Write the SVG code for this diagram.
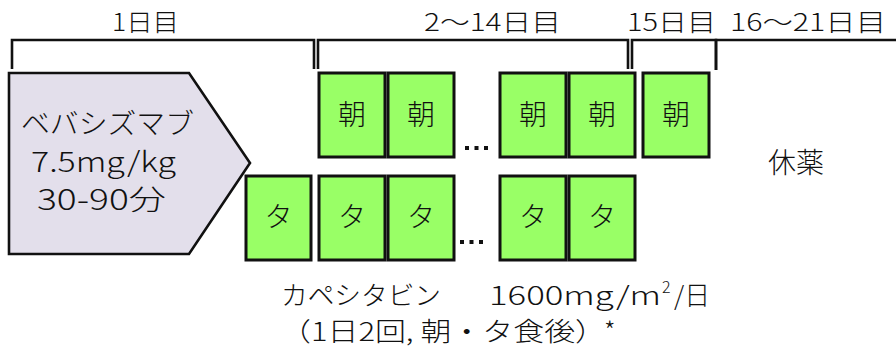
<svg xmlns="http://www.w3.org/2000/svg" width="896" height="349" viewBox="0 0 896 349">
<style>
text{font-family:"Noto Sans CJK JP","Noto Sans",sans-serif;font-weight:300;fill:#111;}
.br{fill:none;stroke:#111;stroke-width:2.6;}
.box{fill:#99ff66;stroke:#111;stroke-width:3;}
.lbl{font-size:28px;text-anchor:middle;}
.pt{font-size:28px;}
.hdr{font-size:24px;}
.nt{font-size:26px;}
.dot{fill:#111;}
</style>
<rect width="896" height="349" fill="#fff"/>
<g id="brackets">
<path class="br" d="M12,69 V40 H314 V69"/>
<path class="br" d="M318,69 V40 H628 V69"/>
<path class="br" d="M632,69 V40 H716 V70"/>
<path class="br" d="M716,70 V40 H896"/>
</g>
<g id="headers">
<text class="hdr" x="112" y="31" textLength="67" lengthAdjust="spacingAndGlyphs">1日目</text>
<text class="hdr" x="424" y="31" textLength="137" lengthAdjust="spacingAndGlyphs">2～14日目</text>
<text class="hdr" x="627" y="31" textLength="89" lengthAdjust="spacingAndGlyphs">15日目</text>
<text class="hdr" x="730" y="31" textLength="156" lengthAdjust="spacingAndGlyphs">16～21日目</text>
</g>
<g id="bevacizumab">
<path d="M9,73 H189 L250,163 L189,254 H9 Z" fill="#e3dfeb" stroke="#111" stroke-width="2.6"/>
<text class="pt" x="21" y="134" textLength="173" lengthAdjust="spacingAndGlyphs">ベバシズマブ</text>
<text class="pt" x="31" y="172" textLength="145" lengthAdjust="spacingAndGlyphs">7.5mg/kg</text>
<text class="pt" x="37" y="210" textLength="129" lengthAdjust="spacingAndGlyphs">30-90分</text>
</g>
<g id="morning">
<g id="m1"><rect class="box" x="319" y="73" width="66" height="84"/><text class="lbl" x="352" y="125">朝</text></g>
<g id="m2"><rect class="box" x="388" y="73" width="66" height="84"/><text class="lbl" x="421" y="125">朝</text></g>
<g id="m3"><rect class="box" x="500" y="73" width="66" height="84"/><text class="lbl" x="533" y="125">朝</text></g>
<g id="m4"><rect class="box" x="569" y="73" width="66" height="84"/><text class="lbl" x="602" y="125">朝</text></g>
<g id="m5"><rect class="box" x="643" y="73" width="66" height="84"/><text class="lbl" x="676" y="125">朝</text></g>
</g>
<g id="evening">
<g id="e0"><rect class="box" x="246" y="176" width="65" height="84"/><text class="lbl" x="278.5" y="227">タ</text></g>
<g id="e1"><rect class="box" x="319" y="176" width="66" height="84"/><text class="lbl" x="352" y="227">タ</text></g>
<g id="e2"><rect class="box" x="388" y="176" width="66" height="84"/><text class="lbl" x="421" y="227">タ</text></g>
<g id="e3"><rect class="box" x="500" y="176" width="66" height="84"/><text class="lbl" x="533" y="227">タ</text></g>
<g id="e4"><rect class="box" x="569" y="176" width="66" height="84"/><text class="lbl" x="602" y="227">タ</text></g>
</g>
<g id="ellipsis">
<rect class="dot" x="465" y="146" width="4" height="4"/><rect class="dot" x="474.5" y="146" width="4" height="4"/><rect class="dot" x="484" y="146" width="4" height="4"/>
<rect class="dot" x="460" y="240" width="4" height="4"/><rect class="dot" x="469.5" y="240" width="4" height="4"/><rect class="dot" x="479" y="240" width="4" height="4"/>
</g>
<g id="rest">
<text class="lbl" x="796" y="173">休薬</text>
</g>
<g id="note">
<text class="nt" x="281" y="305" textLength="160" lengthAdjust="spacingAndGlyphs">カペシタビン</text>
<text class="nt" x="489" y="305" textLength="172" lengthAdjust="spacingAndGlyphs">1600mg/m</text>
<text x="662" y="293" font-size="16">2</text>
<text class="nt" x="674" y="305" textLength="36" lengthAdjust="spacingAndGlyphs">/日</text>
<text class="nt" x="280" y="341" textLength="326" lengthAdjust="spacingAndGlyphs">（1日2回, 朝・タ食後）</text>
<text x="604" y="341" font-size="26">*</text>
</g>
</svg>
